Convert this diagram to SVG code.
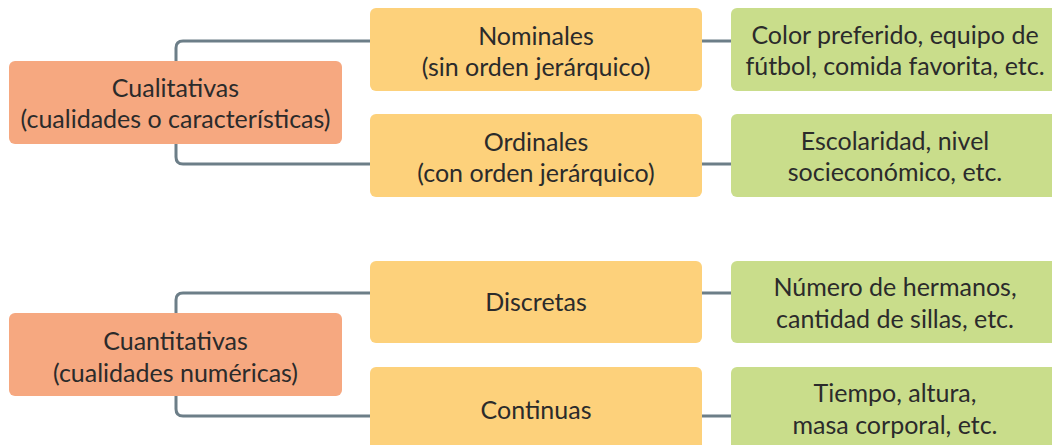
<svg xmlns="http://www.w3.org/2000/svg" width="1052" height="445" viewBox="0 0 1052 445">
<style>
.t{font-family:Lato,"Noto Sans",sans-serif;font-size:25px;fill:#2b2b2b;text-anchor:middle}
.o{fill:#F6A880}
.y{fill:#FDD17B}
.g{fill:#C9DD8B}
.c{fill:none;stroke:#6C7E88;stroke-width:3}
</style>
<rect width="1052" height="445" fill="#ffffff"/>
<g id="connectors">
<path class="c" d="M370 41 H183 Q176 41 176 48 V157 Q176 164 183 164 H370"/>
<path class="c" d="M702 41 H731 M702 164 H731"/>
<path class="c" d="M370 293 H183 Q176 293 176 300 V409 Q176 416 183 416 H370"/>
<path class="c" d="M702 293 H731 M702 416 H731"/>
</g>
<g id="cualitativas"><rect class="o" x="9" y="61" width="333" height="83" rx="6"/><text class="t" x="175.5" y="97">Cualitativas</text><text class="t" x="175.5" y="128">(cualidades o características)</text></g>
<g id="nominales"><rect class="y" x="370" y="8" width="332" height="83" rx="6"/><text class="t" x="536" y="45">Nominales</text><text class="t" x="536" y="76">(sin orden jerárquico)</text></g>
<g id="ordinales"><rect class="y" x="370" y="114" width="332" height="83" rx="6"/><text class="t" x="536" y="151">Ordinales</text><text class="t" x="536" y="182">(con orden jerárquico)</text></g>
<g id="ej-nominales"><rect class="g" x="731" y="8" width="330" height="83" rx="6"/><text class="t" x="895" y="44">Color preferido, equipo de</text><text class="t" x="895" y="75">fútbol, comida favorita, etc.</text></g>
<g id="ej-ordinales"><rect class="g" x="731" y="114" width="330" height="83" rx="6"/><text class="t" x="895" y="150">Escolaridad, nivel</text><text class="t" x="895" y="181">socieconómico, etc.</text></g>
<g id="cuantitativas"><rect class="o" x="9" y="313" width="333" height="83" rx="6"/><text class="t" x="175.5" y="350">Cuantitativas</text><text class="t" x="175.5" y="382">(cualidades numéricas)</text></g>
<g id="discretas"><rect class="y" x="370" y="261" width="332" height="82" rx="6"/><text class="t" x="536" y="311">Discretas</text></g>
<g id="continuas"><rect class="y" x="370" y="367" width="332" height="83" rx="6"/><text class="t" x="536" y="419">Continuas</text></g>
<g id="ej-discretas"><rect class="g" x="731" y="261" width="330" height="82" rx="6"/><text class="t" x="895" y="296">Número de hermanos,</text><text class="t" x="895" y="328">cantidad de sillas, etc.</text></g>
<g id="ej-continuas"><rect class="g" x="731" y="367" width="330" height="83" rx="6"/><text class="t" x="895" y="402">Tiempo, altura,</text><text class="t" x="895" y="434">masa corporal, etc.</text></g>
</svg>
